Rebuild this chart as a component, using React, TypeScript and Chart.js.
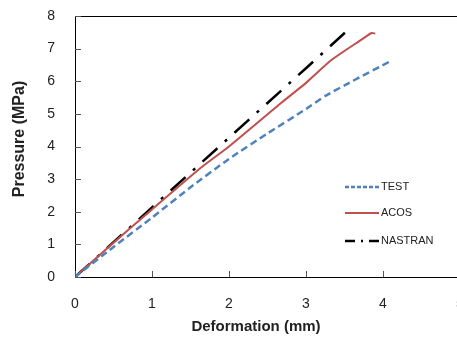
import React, { useEffect, useRef } from "react";
import { Chart, registerables } from "chart.js";

Chart.register(...registerables);

const testX = [0, 0.5, 1, 1.5, 2, 2.5, 3, 3.25, 3.6, 4.1];
const testY = [0, 0.92, 1.82, 2.75, 3.62, 4.4, 5.15, 5.55, 6.0, 6.62];
const acosX = [0, 0.5, 1, 1.63, 2, 2.68, 3, 3.33, 3.73, 3.85, 3.9];
const acosY = [0, 1.05, 2.07, 3.34, 4.0, 5.34, 5.95, 6.65, 7.29, 7.48, 7.46];
const nastranX = [0, 1, 2, 3, 3.53];
const nastranY = [0, 2.13, 4.27, 6.4, 7.54];
const seriesNames = ["TEST", "ACOS", "NASTRAN"];
const xTitle = "Deformation (mm)";
const yTitle = "Pressure (MPa)";

const pts = (xs: number[], ys: number[]) => xs.map((x, i) => ({ x, y: ys[i] }));

const decorPlugin = {
  id: "decor",
  afterDraw(chart: any) {
    const { ctx, chartArea, scales } = chart;
    const xs = scales.x;
    const ys = scales.y;
    ctx.save();
    // top border
    ctx.strokeStyle = "#000";
    ctx.lineWidth = 1;
    ctx.beginPath();
    ctx.moveTo(chartArea.left, Math.round(chartArea.top) + 0.5);
    ctx.lineTo(chartArea.right + 20, Math.round(chartArea.top) + 0.5);
    ctx.stroke();
    // inside ticks
    ctx.strokeStyle = "#555";
    ys.ticks.forEach((t: any) => {
      const py = Math.round(ys.getPixelForValue(t.value)) + 0.5;
      ctx.beginPath();
      ctx.moveTo(chartArea.left, py);
      ctx.lineTo(chartArea.left + 6, py);
      ctx.stroke();
    });
    xs.ticks.forEach((t: any) => {
      const px = Math.round(xs.getPixelForValue(t.value)) + 0.5;
      ctx.beginPath();
      ctx.moveTo(px, chartArea.bottom);
      ctx.lineTo(px, chartArea.bottom - 6);
      ctx.stroke();
    });
    // axis titles
    ctx.fillStyle = "#222";
    ctx.textAlign = "center";
    ctx.textBaseline = "middle";
    ctx.font = "bold 15px 'Liberation Sans', Arial, sans-serif";
    ctx.fillText(xTitle, 256, 327);
    ctx.save();
    ctx.translate(20, 139);
    ctx.rotate(-Math.PI / 2);
    ctx.font = "bold 16px 'Liberation Sans', Arial, sans-serif";
    ctx.fillText(yTitle, 0, 0);
    ctx.restore();
    // legend
    const items = chart.data.datasets;
    const legendY = [187, 213, 241];
    ctx.font = "11px 'Liberation Sans', Arial, sans-serif";
    ctx.textAlign = "left";
    items.forEach((ds: any, i: number) => {
      const y = legendY[i];
      ctx.save();
      ctx.strokeStyle = ds.borderColor;
      ctx.lineWidth = ds.borderWidth;
      ctx.setLineDash(i === 0 ? [4, 2] : i === 2 ? [10, 6, 2, 6] : []);
      ctx.beginPath();
      ctx.moveTo(345, y);
      ctx.lineTo(379, y);
      ctx.stroke();
      ctx.restore();
      ctx.fillStyle = "#222";
      ctx.fillText(ds.label, 381, y);
    });
    ctx.restore();
  },
};

export default function App() {
  const ref = useRef<HTMLCanvasElement>(null);
  useEffect(() => {
    document.body.style.margin = "0";
    document.body.style.overflow = "hidden";
    const chart = new Chart(ref.current!, {
      type: "line",
      data: {
        datasets: [
          {
            label: seriesNames[0],
            data: pts(testX, testY),
            borderColor: "#4F81BD",
            borderWidth: 2.5,
            borderDash: [7, 4],
            pointRadius: 0,
            tension: 0.2,
          },
          {
            label: seriesNames[1],
            data: pts(acosX, acosY),
            borderColor: "#C0504D",
            borderWidth: 2,
            pointRadius: 0,
            tension: 0.2,
          },
          {
            label: seriesNames[2],
            data: pts(nastranX, nastranY),
            borderColor: "#000",
            borderWidth: 2.5,
            borderDash: [20, 10, 3, 10],
            pointRadius: 0,
            tension: 0,
          },
        ],
      },
      options: {
        responsive: false,
        animation: false,
        layout: { padding: { left: 0, top: 16, right: 10, bottom: 0 } },
        plugins: { legend: { display: false }, tooltip: { enabled: false } },
        scales: {
          x: {
            type: "linear",
            min: 0,
            max: 5,
            ticks: {
              stepSize: 1,
              padding: 19,
              color: "#222",
              font: { family: "'Liberation Sans', Arial, sans-serif", size: 14 },
            },
            grid: { display: false, drawTicks: false },
            border: { display: true, color: "#000", width: 1 },
            afterFit: (s: any) => {
              s.height = 65;
              s.paddingLeft = 0;
              s.paddingRight = 0;
            },
          },
          y: {
            type: "linear",
            min: 0,
            max: 8,
            ticks: {
              stepSize: 1,
              padding: 20,
              color: "#222",
              font: { family: "'Liberation Sans', Arial, sans-serif", size: 14 },
            },
            grid: { display: false, drawTicks: false },
            border: { display: true, color: "#000", width: 1 },
            afterFit: (s: any) => {
              s.width = 75;
              s.paddingTop = 0;
              s.paddingBottom = 0;
            },
          },
        },
      },
      plugins: [decorPlugin],
    });
    return () => chart.destroy();
  }, []);
  return (
    <div style={{ position: "fixed", left: 0, top: 0, width: 457, height: 342, overflow: "hidden", background: "#fff" }}>
      <canvas ref={ref} width={470} height={342} style={{ display: "block" }} />
    </div>
  );
}
